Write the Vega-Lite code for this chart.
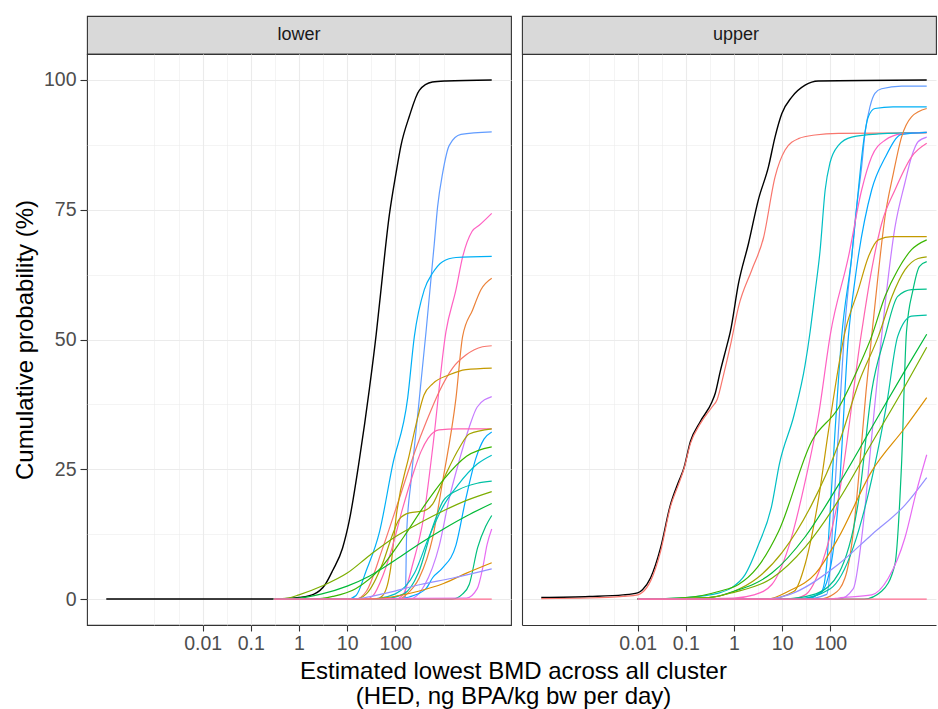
{
"$schema": "https://vega.github.io/schema/vega-lite/v6.json",
"background": "white",
"padding": {"left": 12, "top": 15, "right": 0, "bottom": 0},
"autosize": {"type": "pad"},
"config": {"font": "Liberation Sans", "view": {"stroke": "#333333", "strokeWidth": 1.1}},
"columns": 2,
"spacing": {"row": 0, "column": 11},
"bounds": "flush",
"data": {"values": [
{"p":"lower","s":"K","x":0.0001,"y":0},{"p":"lower","s":"K","x":0.3,"y":0},{"p":"lower","s":"K","x":0.6,"y":0.1},{"p":"lower","s":"K","x":1,"y":0.3},{"p":"lower","s":"K","x":2,"y":0.9},{"p":"lower","s":"K","x":3.5,"y":2.8},{"p":"lower","s":"K","x":5,"y":5.5},{"p":"lower","s":"K","x":8,"y":9.8},{"p":"lower","s":"K","x":11,"y":15},{"p":"lower","s":"K","x":18,"y":27},{"p":"lower","s":"K","x":29,"y":40.6},{"p":"lower","s":"K","x":40,"y":51},{"p":"lower","s":"K","x":47,"y":57},{"p":"lower","s":"K","x":75,"y":74},{"p":"lower","s":"K","x":103,"y":82},{"p":"lower","s":"K","x":131,"y":87.4},{"p":"lower","s":"K","x":195,"y":93},{"p":"lower","s":"K","x":314,"y":98},{"p":"lower","s":"K","x":585,"y":99.6},{"p":"lower","s":"K","x":1122,"y":99.8},{"p":"lower","s":"K","x":10000,"y":100},
{"p":"lower","s":"g14","x":0.3,"y":0},{"p":"lower","s":"g14","x":150,"y":0},{"p":"lower","s":"g14","x":161,"y":0.5},{"p":"lower","s":"g14","x":172,"y":13},{"p":"lower","s":"g14","x":211,"y":22.6},{"p":"lower","s":"g14","x":290,"y":35.4},{"p":"lower","s":"g14","x":433,"y":51.5},{"p":"lower","s":"g14","x":643,"y":68.5},{"p":"lower","s":"g14","x":753,"y":75.6},{"p":"lower","s":"g14","x":955,"y":82},{"p":"lower","s":"g14","x":1315,"y":87.4},{"p":"lower","s":"g14","x":2300,"y":89.5},{"p":"lower","s":"g14","x":10000,"y":90},
{"p":"lower","s":"g18","x":0.3,"y":0},{"p":"lower","s":"g18","x":100,"y":0},{"p":"lower","s":"g18","x":142,"y":0.7},{"p":"lower","s":"g18","x":229,"y":6.7},{"p":"lower","s":"g18","x":390,"y":16},{"p":"lower","s":"g18","x":593,"y":29},{"p":"lower","s":"g18","x":1122,"y":51.5},{"p":"lower","s":"g18","x":1811,"y":59.6},{"p":"lower","s":"g18","x":2490,"y":65.9},{"p":"lower","s":"g18","x":3890,"y":70.8},{"p":"lower","s":"g18","x":5500,"y":72},{"p":"lower","s":"g18","x":10000,"y":74.3},
{"p":"lower","s":"g12","x":0.3,"y":0},{"p":"lower","s":"g12","x":10,"y":0},{"p":"lower","s":"g12","x":15.3,"y":0.7},{"p":"lower","s":"g12","x":24.7,"y":5.4},{"p":"lower","s":"g12","x":47,"y":13},{"p":"lower","s":"g12","x":88,"y":25.9},{"p":"lower","s":"g12","x":180,"y":38.7},{"p":"lower","s":"g12","x":248,"y":50.6},{"p":"lower","s":"g12","x":399,"y":59.6},{"p":"lower","s":"g12","x":593,"y":62.8},{"p":"lower","s":"g12","x":955,"y":65},{"p":"lower","s":"g12","x":1811,"y":65.8},{"p":"lower","s":"g12","x":10000,"y":66},
{"p":"lower","s":"g02","x":0.3,"y":0},{"p":"lower","s":"g02","x":120,"y":0},{"p":"lower","s":"g02","x":166,"y":0.8},{"p":"lower","s":"g02","x":314,"y":4.1},{"p":"lower","s":"g02","x":593,"y":11.8},{"p":"lower","s":"g02","x":955,"y":22.6},{"p":"lower","s":"g02","x":1811,"y":38.7},{"p":"lower","s":"g02","x":2490,"y":50.6},{"p":"lower","s":"g02","x":4010,"y":55.7},{"p":"lower","s":"g02","x":5970,"y":59.6},{"p":"lower","s":"g02","x":10000,"y":61.8},
{"p":"lower","s":"g01","x":0.3,"y":0},{"p":"lower","s":"g01","x":15,"y":0},{"p":"lower","s":"g01","x":25,"y":1.5},{"p":"lower","s":"g01","x":55,"y":9.9},{"p":"lower","s":"g01","x":121,"y":19.4},{"p":"lower","s":"g01","x":268,"y":29},{"p":"lower","s":"g01","x":432,"y":34},{"p":"lower","s":"g01","x":815,"y":40},{"p":"lower","s":"g01","x":1540,"y":44.5},{"p":"lower","s":"g01","x":2911,"y":47},{"p":"lower","s":"g01","x":6450,"y":48.6},{"p":"lower","s":"g01","x":10000,"y":48.8},
{"p":"lower","s":"g04","x":0.3,"y":0},{"p":"lower","s":"g04","x":40,"y":0},{"p":"lower","s":"g04","x":55,"y":0.7},{"p":"lower","s":"g04","x":80,"y":6},{"p":"lower","s":"g04","x":103,"y":15.6},{"p":"lower","s":"g04","x":195,"y":27.8},{"p":"lower","s":"g04","x":288,"y":34.8},{"p":"lower","s":"g04","x":393,"y":39.3},{"p":"lower","s":"g04","x":600,"y":41.5},{"p":"lower","s":"g04","x":1315,"y":43.2},{"p":"lower","s":"g04","x":2911,"y":44.2},{"p":"lower","s":"g04","x":10000,"y":44.5},
{"p":"lower","s":"g16","x":0.3,"y":0},{"p":"lower","s":"g16","x":200,"y":0},{"p":"lower","s":"g16","x":400,"y":2.6},{"p":"lower","s":"g16","x":815,"y":10.3},{"p":"lower","s":"g16","x":1315,"y":19.4},{"p":"lower","s":"g16","x":2120,"y":26.7},{"p":"lower","s":"g16","x":3410,"y":33.1},{"p":"lower","s":"g16","x":5000,"y":37},{"p":"lower","s":"g16","x":10000,"y":39},
{"p":"lower","s":"g19","x":0.3,"y":0},{"p":"lower","s":"g19","x":25,"y":0},{"p":"lower","s":"g19","x":34,"y":0.6},{"p":"lower","s":"g19","x":55,"y":4.5},{"p":"lower","s":"g19","x":88,"y":10.3},{"p":"lower","s":"g19","x":142,"y":17.5},{"p":"lower","s":"g19","x":229,"y":23.9},{"p":"lower","s":"g19","x":340,"y":28.4},{"p":"lower","s":"g19","x":480,"y":31},{"p":"lower","s":"g19","x":800,"y":32.6},{"p":"lower","s":"g19","x":2000,"y":32.8},{"p":"lower","s":"g19","x":10000,"y":32.8},
{"p":"lower","s":"g05","x":0.3,"y":0},{"p":"lower","s":"g05","x":15,"y":0},{"p":"lower","s":"g05","x":25,"y":1},{"p":"lower","s":"g05","x":55,"y":7},{"p":"lower","s":"g05","x":88,"y":12.5},{"p":"lower","s":"g05","x":121,"y":15.4},{"p":"lower","s":"g05","x":195,"y":16.6},{"p":"lower","s":"g05","x":393,"y":17},{"p":"lower","s":"g05","x":593,"y":18.3},{"p":"lower","s":"g05","x":1122,"y":24.1},{"p":"lower","s":"g05","x":2150,"y":29.2},{"p":"lower","s":"g05","x":3410,"y":31.8},{"p":"lower","s":"g05","x":10000,"y":32.8},
{"p":"lower","s":"g13","x":0.3,"y":0},{"p":"lower","s":"g13","x":100,"y":0},{"p":"lower","s":"g13","x":195,"y":0.4},{"p":"lower","s":"g13","x":432,"y":2},{"p":"lower","s":"g13","x":593,"y":4.1},{"p":"lower","s":"g13","x":955,"y":6},{"p":"lower","s":"g13","x":1811,"y":10.4},{"p":"lower","s":"g13","x":2911,"y":19.4},{"p":"lower","s":"g13","x":4650,"y":27},{"p":"lower","s":"g13","x":6900,"y":30.8},{"p":"lower","s":"g13","x":10000,"y":32.2},
{"p":"lower","s":"g07","x":0.3,"y":0},{"p":"lower","s":"g07","x":2,"y":0},{"p":"lower","s":"g07","x":5,"y":0.5},{"p":"lower","s":"g07","x":15,"y":2},{"p":"lower","s":"g07","x":50,"y":6},{"p":"lower","s":"g07","x":150,"y":12},{"p":"lower","s":"g07","x":400,"y":18},{"p":"lower","s":"g07","x":1000,"y":23},{"p":"lower","s":"g07","x":3000,"y":27.5},{"p":"lower","s":"g07","x":10000,"y":29.3},
{"p":"lower","s":"g11","x":0.3,"y":0},{"p":"lower","s":"g11","x":30,"y":0},{"p":"lower","s":"g11","x":100,"y":1},{"p":"lower","s":"g11","x":250,"y":5},{"p":"lower","s":"g11","x":500,"y":12},{"p":"lower","s":"g11","x":1000,"y":18},{"p":"lower","s":"g11","x":2000,"y":22},{"p":"lower","s":"g11","x":5000,"y":26},{"p":"lower","s":"g11","x":10000,"y":27.7},
{"p":"lower","s":"g10","x":0.3,"y":0},{"p":"lower","s":"g10","x":50,"y":0},{"p":"lower","s":"g10","x":150,"y":1},{"p":"lower","s":"g10","x":300,"y":5},{"p":"lower","s":"g10","x":600,"y":14},{"p":"lower","s":"g10","x":1000,"y":19},{"p":"lower","s":"g10","x":2000,"y":21},{"p":"lower","s":"g10","x":5000,"y":22.3},{"p":"lower","s":"g10","x":10000,"y":22.7},
{"p":"lower","s":"g06","x":0.3,"y":0},{"p":"lower","s":"g06","x":0.6,"y":0.2},{"p":"lower","s":"g06","x":1,"y":0.8},{"p":"lower","s":"g06","x":3,"y":2.5},{"p":"lower","s":"g06","x":10,"y":5},{"p":"lower","s":"g06","x":30,"y":8.5},{"p":"lower","s":"g06","x":100,"y":12},{"p":"lower","s":"g06","x":300,"y":14.5},{"p":"lower","s":"g06","x":1000,"y":17},{"p":"lower","s":"g06","x":3000,"y":19},{"p":"lower","s":"g06","x":10000,"y":20.7},
{"p":"lower","s":"g08","x":0.3,"y":0},{"p":"lower","s":"g08","x":1,"y":0.2},{"p":"lower","s":"g08","x":3,"y":1},{"p":"lower","s":"g08","x":10,"y":2.5},{"p":"lower","s":"g08","x":30,"y":4.5},{"p":"lower","s":"g08","x":100,"y":7.5},{"p":"lower","s":"g08","x":300,"y":10.5},{"p":"lower","s":"g08","x":1000,"y":13.5},{"p":"lower","s":"g08","x":3000,"y":16},{"p":"lower","s":"g08","x":10000,"y":18.4},
{"p":"lower","s":"g09","x":0.3,"y":0},{"p":"lower","s":"g09","x":1500,"y":0},{"p":"lower","s":"g09","x":2500,"y":1},{"p":"lower","s":"g09","x":3410,"y":2.8},{"p":"lower","s":"g09","x":5100,"y":9.9},{"p":"lower","s":"g09","x":7500,"y":14},{"p":"lower","s":"g09","x":10000,"y":16.1},
{"p":"lower","s":"g17","x":0.3,"y":0},{"p":"lower","s":"g17","x":3000,"y":0.2},{"p":"lower","s":"g17","x":5000,"y":2},{"p":"lower","s":"g17","x":6500,"y":6},{"p":"lower","s":"g17","x":8000,"y":10.5},{"p":"lower","s":"g17","x":10000,"y":13.5},
{"p":"lower","s":"g03","x":0.3,"y":0},{"p":"lower","s":"g03","x":20,"y":0},{"p":"lower","s":"g03","x":68,"y":0.3},{"p":"lower","s":"g03","x":300,"y":1.5},{"p":"lower","s":"g03","x":1000,"y":3},{"p":"lower","s":"g03","x":3000,"y":5},{"p":"lower","s":"g03","x":10000,"y":7},
{"p":"lower","s":"g15","x":0.3,"y":0},{"p":"lower","s":"g15","x":10,"y":0},{"p":"lower","s":"g15","x":22.6,"y":0.25},{"p":"lower","s":"g15","x":68,"y":1.2},{"p":"lower","s":"g15","x":330,"y":2.8},{"p":"lower","s":"g15","x":1500,"y":4},{"p":"lower","s":"g15","x":10000,"y":5.8},
{"p":"lower","s":"g20","x":0.3,"y":0},{"p":"lower","s":"g20","x":10000,"y":0},
{"p":"upper","s":"K","x":0.0001,"y":0.3},{"p":"upper","s":"K","x":0.001,"y":0.5},{"p":"upper","s":"K","x":0.005,"y":0.8},{"p":"upper","s":"K","x":0.01,"y":1.2},{"p":"upper","s":"K","x":0.0126,"y":1.8},{"p":"upper","s":"K","x":0.0186,"y":4.1},{"p":"upper","s":"K","x":0.03,"y":9.9},{"p":"upper","s":"K","x":0.048,"y":18.2},{"p":"upper","s":"K","x":0.07,"y":22.5},{"p":"upper","s":"K","x":0.091,"y":25.2},{"p":"upper","s":"K","x":0.125,"y":30.4},{"p":"upper","s":"K","x":0.2,"y":34.2},{"p":"upper","s":"K","x":0.35,"y":38},{"p":"upper","s":"K","x":0.41,"y":39.7},{"p":"upper","s":"K","x":0.52,"y":43.9},{"p":"upper","s":"K","x":0.72,"y":49},{"p":"upper","s":"K","x":0.84,"y":51.5},{"p":"upper","s":"K","x":1.24,"y":60.8},{"p":"upper","s":"K","x":2,"y":68.5},{"p":"upper","s":"K","x":3.2,"y":76.9},{"p":"upper","s":"K","x":5.2,"y":83.3},{"p":"upper","s":"K","x":7.1,"y":89},{"p":"upper","s":"K","x":9.8,"y":93.5},{"p":"upper","s":"K","x":15.8,"y":96.7},{"p":"upper","s":"K","x":29.9,"y":99},{"p":"upper","s":"K","x":56,"y":99.8},{"p":"upper","s":"K","x":10000,"y":100},
{"p":"upper","s":"g01","x":0.0001,"y":0.1},{"p":"upper","s":"g01","x":0.001,"y":0.2},{"p":"upper","s":"g01","x":0.005,"y":0.5},{"p":"upper","s":"g01","x":0.01,"y":0.8},{"p":"upper","s":"g01","x":0.0126,"y":1.3},{"p":"upper","s":"g01","x":0.0186,"y":3.5},{"p":"upper","s":"g01","x":0.03,"y":9.2},{"p":"upper","s":"g01","x":0.048,"y":17.8},{"p":"upper","s":"g01","x":0.07,"y":22},{"p":"upper","s":"g01","x":0.091,"y":25},{"p":"upper","s":"g01","x":0.125,"y":30},{"p":"upper","s":"g01","x":0.2,"y":33.8},{"p":"upper","s":"g01","x":0.35,"y":37},{"p":"upper","s":"g01","x":0.45,"y":38.5},{"p":"upper","s":"g01","x":0.6,"y":43},{"p":"upper","s":"g01","x":0.85,"y":49},{"p":"upper","s":"g01","x":1.24,"y":56.3},{"p":"upper","s":"g01","x":2.34,"y":63.4},{"p":"upper","s":"g01","x":4.1,"y":69.6},{"p":"upper","s":"g01","x":7.1,"y":81.3},{"p":"upper","s":"g01","x":11.5,"y":86.5},{"p":"upper","s":"g01","x":21.7,"y":88.7},{"p":"upper","s":"g01","x":48,"y":89.4},{"p":"upper","s":"g01","x":147,"y":89.7},{"p":"upper","s":"g01","x":10000,"y":89.8},
{"p":"upper","s":"g14","x":0.01,"y":0},{"p":"upper","s":"g14","x":30,"y":0},{"p":"upper","s":"g14","x":84,"y":0.9},{"p":"upper","s":"g14","x":98,"y":5.4},{"p":"upper","s":"g14","x":115,"y":16.2},{"p":"upper","s":"g14","x":147,"y":32.3},{"p":"upper","s":"g14","x":202,"y":53.1},{"p":"upper","s":"g14","x":277,"y":65.9},{"p":"upper","s":"g14","x":352,"y":75.6},{"p":"upper","s":"g14","x":446,"y":83.3},{"p":"upper","s":"g14","x":523,"y":89.7},{"p":"upper","s":"g14","x":663,"y":94.8},{"p":"upper","s":"g14","x":841,"y":97.4},{"p":"upper","s":"g14","x":1157,"y":98.3},{"p":"upper","s":"g14","x":3000,"y":98.8},{"p":"upper","s":"g14","x":10000,"y":98.8},
{"p":"upper","s":"g12","x":0.01,"y":0},{"p":"upper","s":"g12","x":30,"y":0},{"p":"upper","s":"g12","x":66,"y":1.5},{"p":"upper","s":"g12","x":84,"y":6.7},{"p":"upper","s":"g12","x":98,"y":16.2},{"p":"upper","s":"g12","x":125,"y":32.3},{"p":"upper","s":"g12","x":172,"y":50.6},{"p":"upper","s":"g12","x":277,"y":65.9},{"p":"upper","s":"g12","x":381,"y":78.8},{"p":"upper","s":"g12","x":484,"y":87.8},{"p":"upper","s":"g12","x":614,"y":92.9},{"p":"upper","s":"g12","x":841,"y":94.5},{"p":"upper","s":"g12","x":2000,"y":94.8},{"p":"upper","s":"g12","x":10000,"y":94.8},
{"p":"upper","s":"g11","x":0.01,"y":0},{"p":"upper","s":"g11","x":0.1,"y":0.3},{"p":"upper","s":"g11","x":0.5,"y":1.2},{"p":"upper","s":"g11","x":0.9,"y":2.2},{"p":"upper","s":"g11","x":1.7,"y":4.7},{"p":"upper","s":"g11","x":3.2,"y":10.4},{"p":"upper","s":"g11","x":6.1,"y":18.1},{"p":"upper","s":"g11","x":8.7,"y":25.9},{"p":"upper","s":"g11","x":17.7,"y":35.5},{"p":"upper","s":"g11","x":29.9,"y":45.1},{"p":"upper","s":"g11","x":38,"y":51.5},{"p":"upper","s":"g11","x":48,"y":59},{"p":"upper","s":"g11","x":61,"y":67},{"p":"upper","s":"g11","x":78,"y":78.8},{"p":"upper","s":"g11","x":98,"y":84},{"p":"upper","s":"g11","x":147,"y":87.4},{"p":"upper","s":"g11","x":277,"y":89},{"p":"upper","s":"g11","x":1000,"y":89.6},{"p":"upper","s":"g11","x":10000,"y":89.9},
{"p":"upper","s":"g18","x":0.01,"y":0},{"p":"upper","s":"g18","x":1,"y":0.2},{"p":"upper","s":"g18","x":2.6,"y":0.8},{"p":"upper","s":"g18","x":6.1,"y":2.8},{"p":"upper","s":"g18","x":13.5,"y":9.9},{"p":"upper","s":"g18","x":29.9,"y":22.6},{"p":"upper","s":"g18","x":57,"y":35.5},{"p":"upper","s":"g18","x":100,"y":51},{"p":"upper","s":"g18","x":237,"y":65.9},{"p":"upper","s":"g18","x":446,"y":78.8},{"p":"upper","s":"g18","x":719,"y":85.2},{"p":"upper","s":"g18","x":1360,"y":88.4},{"p":"upper","s":"g18","x":3000,"y":89.6},{"p":"upper","s":"g18","x":10000,"y":89.9},
{"p":"upper","s":"g13","x":0.01,"y":0},{"p":"upper","s":"g13","x":20,"y":0},{"p":"upper","s":"g13","x":60,"y":1},{"p":"upper","s":"g13","x":100,"y":6},{"p":"upper","s":"g13","x":150,"y":20},{"p":"upper","s":"g13","x":237,"y":50.6},{"p":"upper","s":"g13","x":330,"y":62},{"p":"upper","s":"g13","x":719,"y":78.8},{"p":"upper","s":"g13","x":1360,"y":85},{"p":"upper","s":"g13","x":3000,"y":89.5},{"p":"upper","s":"g13","x":10000,"y":89.9},
{"p":"upper","s":"g02","x":0.01,"y":0},{"p":"upper","s":"g02","x":60,"y":0},{"p":"upper","s":"g02","x":120,"y":1},{"p":"upper","s":"g02","x":200,"y":4},{"p":"upper","s":"g02","x":300,"y":13},{"p":"upper","s":"g02","x":400,"y":25},{"p":"upper","s":"g02","x":550,"y":40},{"p":"upper","s":"g02","x":719,"y":50.6},{"p":"upper","s":"g02","x":990,"y":62.8},{"p":"upper","s":"g02","x":1360,"y":73.6},{"p":"upper","s":"g02","x":2020,"y":81.9},{"p":"upper","s":"g02","x":3000,"y":89},{"p":"upper","s":"g02","x":4840,"y":92.9},{"p":"upper","s":"g02","x":10000,"y":94.5},
{"p":"upper","s":"g16","x":0.01,"y":0},{"p":"upper","s":"g16","x":150,"y":0},{"p":"upper","s":"g16","x":300,"y":2},{"p":"upper","s":"g16","x":450,"y":12},{"p":"upper","s":"g16","x":700,"y":30},{"p":"upper","s":"g16","x":1157,"y":50.6},{"p":"upper","s":"g16","x":2190,"y":71.6},{"p":"upper","s":"g16","x":3530,"y":80.2},{"p":"upper","s":"g16","x":4840,"y":85.2},{"p":"upper","s":"g16","x":6600,"y":88.1},{"p":"upper","s":"g16","x":10000,"y":89},
{"p":"upper","s":"g19","x":0.01,"y":0},{"p":"upper","s":"g19","x":15,"y":0},{"p":"upper","s":"g19","x":30,"y":0.8},{"p":"upper","s":"g19","x":66,"y":6.7},{"p":"upper","s":"g19","x":147,"y":19.4},{"p":"upper","s":"g19","x":446,"y":51.5},{"p":"upper","s":"g19","x":719,"y":63.4},{"p":"upper","s":"g19","x":1157,"y":72.3},{"p":"upper","s":"g19","x":2190,"y":78.8},{"p":"upper","s":"g19","x":4840,"y":85.2},{"p":"upper","s":"g19","x":10000,"y":87.8},
{"p":"upper","s":"g04","x":0.01,"y":0},{"p":"upper","s":"g04","x":5,"y":0},{"p":"upper","s":"g04","x":17.7,"y":1.5},{"p":"upper","s":"g04","x":29.9,"y":6.7},{"p":"upper","s":"g04","x":57,"y":19.4},{"p":"upper","s":"g04","x":91,"y":32.3},{"p":"upper","s":"g04","x":202,"y":51.5},{"p":"upper","s":"g04","x":381,"y":59.6},{"p":"upper","s":"g04","x":614,"y":65.9},{"p":"upper","s":"g04","x":990,"y":69.2},{"p":"upper","s":"g04","x":1900,"y":69.8},{"p":"upper","s":"g04","x":10000,"y":69.8},
{"p":"upper","s":"g07","x":0.01,"y":0},{"p":"upper","s":"g07","x":0.1,"y":0.3},{"p":"upper","s":"g07","x":0.5,"y":1.5},{"p":"upper","s":"g07","x":1.24,"y":2.8},{"p":"upper","s":"g07","x":3,"y":6},{"p":"upper","s":"g07","x":8.4,"y":13},{"p":"upper","s":"g07","x":41,"y":30.4},{"p":"upper","s":"g07","x":147,"y":36.8},{"p":"upper","s":"g07","x":400,"y":45},{"p":"upper","s":"g07","x":719,"y":50.6},{"p":"upper","s":"g07","x":1360,"y":58.3},{"p":"upper","s":"g07","x":2500,"y":63.4},{"p":"upper","s":"g07","x":4840,"y":67.3},{"p":"upper","s":"g07","x":10000,"y":69.2},
{"p":"upper","s":"g05","x":0.01,"y":0},{"p":"upper","s":"g05","x":0.3,"y":0.3},{"p":"upper","s":"g05","x":1,"y":1.5},{"p":"upper","s":"g05","x":3,"y":4},{"p":"upper","s":"g05","x":10,"y":9},{"p":"upper","s":"g05","x":40,"y":18},{"p":"upper","s":"g05","x":150,"y":30},{"p":"upper","s":"g05","x":400,"y":42},{"p":"upper","s":"g05","x":990,"y":50.6},{"p":"upper","s":"g05","x":1900,"y":58.3},{"p":"upper","s":"g05","x":3530,"y":63.4},{"p":"upper","s":"g05","x":6600,"y":65.6},{"p":"upper","s":"g05","x":10000,"y":65.9},
{"p":"upper","s":"g09","x":0.01,"y":0},{"p":"upper","s":"g09","x":500,"y":0},{"p":"upper","s":"g09","x":1157,"y":1.5},{"p":"upper","s":"g09","x":2190,"y":6.7},{"p":"upper","s":"g09","x":3000,"y":25.9},{"p":"upper","s":"g09","x":3800,"y":51.5},{"p":"upper","s":"g09","x":5200,"y":59.6},{"p":"upper","s":"g09","x":7100,"y":64.1},{"p":"upper","s":"g09","x":10000,"y":65},
{"p":"upper","s":"g21","x":0.01,"y":0},{"p":"upper","s":"g21","x":10,"y":0},{"p":"upper","s":"g21","x":50,"y":1},{"p":"upper","s":"g21","x":150,"y":5},{"p":"upper","s":"g21","x":400,"y":20},{"p":"upper","s":"g21","x":719,"y":40},{"p":"upper","s":"g21","x":1360,"y":50.6},{"p":"upper","s":"g21","x":2500,"y":58.3},{"p":"upper","s":"g21","x":4840,"y":59.6},{"p":"upper","s":"g21","x":10000,"y":59.7},
{"p":"upper","s":"g10","x":0.01,"y":0},{"p":"upper","s":"g10","x":20,"y":0},{"p":"upper","s":"g10","x":100,"y":2},{"p":"upper","s":"g10","x":300,"y":10},{"p":"upper","s":"g10","x":800,"y":25},{"p":"upper","s":"g10","x":1500,"y":38},{"p":"upper","s":"g10","x":2500,"y":50.6},{"p":"upper","s":"g10","x":4840,"y":54.5},{"p":"upper","s":"g10","x":10000,"y":54.7},
{"p":"upper","s":"g08","x":0.01,"y":0},{"p":"upper","s":"g08","x":0.3,"y":0.3},{"p":"upper","s":"g08","x":1,"y":1.5},{"p":"upper","s":"g08","x":6.1,"y":5},{"p":"upper","s":"g08","x":30,"y":12},{"p":"upper","s":"g08","x":147,"y":22},{"p":"upper","s":"g08","x":719,"y":33},{"p":"upper","s":"g08","x":3530,"y":44},{"p":"upper","s":"g08","x":10000,"y":51},
{"p":"upper","s":"g06","x":0.01,"y":0},{"p":"upper","s":"g06","x":0.3,"y":0.3},{"p":"upper","s":"g06","x":1,"y":1.3},{"p":"upper","s":"g06","x":6.1,"y":4},{"p":"upper","s":"g06","x":30,"y":10},{"p":"upper","s":"g06","x":147,"y":19},{"p":"upper","s":"g06","x":719,"y":30},{"p":"upper","s":"g06","x":3530,"y":41},{"p":"upper","s":"g06","x":10000,"y":48.5},
{"p":"upper","s":"g03","x":0.01,"y":0},{"p":"upper","s":"g03","x":5,"y":0},{"p":"upper","s":"g03","x":13.5,"y":1.5},{"p":"upper","s":"g03","x":50,"y":5},{"p":"upper","s":"g03","x":147,"y":11.8},{"p":"upper","s":"g03","x":719,"y":24.6},{"p":"upper","s":"g03","x":3530,"y":33},{"p":"upper","s":"g03","x":10000,"y":38.8},
{"p":"upper","s":"g15","x":0.01,"y":0},{"p":"upper","s":"g15","x":5,"y":0},{"p":"upper","s":"g15","x":13.5,"y":0.8},{"p":"upper","s":"g15","x":147,"y":6.7},{"p":"upper","s":"g15","x":719,"y":12.4},{"p":"upper","s":"g15","x":3530,"y":18.1},{"p":"upper","s":"g15","x":10000,"y":23.4},
{"p":"upper","s":"g17","x":0.01,"y":0},{"p":"upper","s":"g17","x":100,"y":0},{"p":"upper","s":"g17","x":147,"y":0.2},{"p":"upper","s":"g17","x":719,"y":0.8},{"p":"upper","s":"g17","x":1590,"y":4},{"p":"upper","s":"g17","x":3530,"y":11.8},{"p":"upper","s":"g17","x":6100,"y":20.7},{"p":"upper","s":"g17","x":10000,"y":27.8},
{"p":"upper","s":"g20","x":0.01,"y":0},{"p":"upper","s":"g20","x":10000,"y":0}
]},
"concat": [
 {"width": 424, "height": 38, "data": {"values": [{"t": "lower"}]}, "view": {"fill": "#d9d9d9", "stroke": "#333333", "strokeWidth": 1.1},
  "mark": {"type": "text", "fontSize": 18, "color": "#1a1a1a", "font": "Liberation Sans"}, "encoding": {"text": {"field": "t"}}},
 {"width": 414, "height": 38, "data": {"values": [{"t": "upper"}]}, "view": {"fill": "#d9d9d9", "stroke": "#333333", "strokeWidth": 1.1},
  "mark": {"type": "text", "fontSize": 18, "color": "#1a1a1a", "font": "Liberation Sans", "dx": 7}, "encoding": {"text": {"field": "t"}}},
 {"width": 424, "height": 571, "transform": [{"filter": "datum.p == 'lower'"}],
  "encoding": {
   "x": {"field": "x", "type": "quantitative", "scale": {"type": "log", "domain": [0.00003981, 25119], "nice": false},
     "axis": {"values": [0.001,0.003162,0.01,0.03162,0.1,0.3162,1,3.162,10,31.62,100,316.2,1000],
       "labelExpr": "indexof([0.01,0.1,1,10,100], datum.value) >= 0 ? format(datum.value, '~g') : ''",
       "tickOpacity": {"condition": {"test": "indexof([0.01,0.1,1,10,100], datum.value) >= 0", "value": 1}, "value": 0},
       "gridWidth": {"condition": {"test": "indexof([0.01,0.1,1,10,100], datum.value) >= 0", "value": 1.1}, "value": 0.55},
       "gridColor": "#ebebeb", "tickColor": "#333333", "tickSize": 6, "tickWidth": 1.1, "domain": false,
       "labelColor": "#4d4d4d", "labelFontSize": 19.5, "labelPadding": 3, "labelFlush": false, "labelOverlap": false,
       "title": ["Estimated lowest BMD across all cluster", "(HED, ng BPA/kg bw per day)"],
       "titleFontSize": 24, "titleFontWeight": "normal", "titleColor": "#000000", "titleLineHeight": 25, "titleX": 426, "titlePadding": 7}},
   "y": {"field": "y", "type": "quantitative", "scale": {"domain": [-5, 105], "nice": false, "zero": false},
     "axis": {"values": [0,12.5,25,37.5,50,62.5,75,87.5,100],
       "labelExpr": "datum.value % 25 == 0 ? datum.label : ''",
       "tickOpacity": {"condition": {"test": "datum.value % 25 == 0", "value": 1}, "value": 0},
       "gridWidth": {"condition": {"test": "datum.value % 25 == 0", "value": 1.1}, "value": 0.55},
       "gridColor": "#ebebeb", "tickColor": "#333333", "tickSize": 7, "tickWidth": 1.1, "domain": false,
       "labelColor": "#4d4d4d", "labelFontSize": 19.5, "labelPadding": 4,
       "title": "Cumulative probability (%)", "titleFontSize": 24, "titleFontWeight": "normal", "titleColor": "#000000", "titlePadding": 6}}
  },
  "layer": [
   {"transform": [{"filter": "datum.s == 'K'"}], "mark": {"type": "line", "color": "#000000", "strokeWidth": 1.4, "interpolate": "monotone"}},
   {"transform": [{"filter": "datum.s != 'K'"}], "mark": {"type": "line", "strokeWidth": 1.2, "interpolate": "monotone"},
    "encoding": {"color": {"field": "s", "type": "nominal", "legend": null,
      "scale": {"domain": ["g01","g02","g03","g04","g05","g06","g07","g08","g09","g10","g11","g12","g13","g14","g15","g16","g17","g18","g19","g20","g21"],
                "range": ["#F8766D","#EC8239","#DB8E00","#C49A00","#A3A500","#7CAE00","#39B600","#00BA38","#00BF7D","#00C1A3","#00BFC4","#00B0F6","#00A9FF","#619CFF","#9590FF","#C77CFF","#E76BF3","#FF61C3","#FF64B0","#FF6C91","#00C08B"]}}}}
  ]},
 {"width": 414, "height": 571, "transform": [{"filter": "datum.p == 'upper'"}],
  "view": {"stroke": null},
  "encoding": {
   "x": {"field": "x", "type": "quantitative", "scale": {"type": "log", "domain": [0.00003981, 15578], "nice": false},
     "axis": {"values": [0.001,0.003162,0.01,0.03162,0.1,0.3162,1,3.162,10,31.62,100,316.2,1000],
       "labelExpr": "indexof([0.01,0.1,1,10,100], datum.value) >= 0 ? format(datum.value, '~g') : ''",
       "tickOpacity": {"condition": {"test": "indexof([0.01,0.1,1,10,100], datum.value) >= 0", "value": 1}, "value": 0},
       "gridWidth": {"condition": {"test": "indexof([0.01,0.1,1,10,100], datum.value) >= 0", "value": 1.1}, "value": 0.55},
       "gridColor": "#ebebeb", "tickColor": "#333333", "tickSize": 6, "tickWidth": 1.1,
       "domain": true, "domainColor": "#333333", "domainWidth": 1.1,
       "labelColor": "#4d4d4d", "labelFontSize": 19.5, "labelPadding": 3, "labelFlush": false, "labelOverlap": false,
       "title": null}},
   "y": {"field": "y", "type": "quantitative", "scale": {"domain": [-5, 105], "nice": false, "zero": false},
     "axis": {"values": [0,12.5,25,37.5,50,62.5,75,87.5,100], "labels": false, "ticks": false, "title": null,
       "domain": true, "domainColor": "#333333", "domainWidth": 1.1,
       "gridWidth": {"condition": {"test": "datum.value % 25 == 0", "value": 1.1}, "value": 0.55},
       "gridColor": "#ebebeb"}}
  },
  "layer": [
   {"transform": [{"filter": "datum.s == 'K'"}], "mark": {"type": "line", "color": "#000000", "strokeWidth": 1.4, "interpolate": "monotone"}},
   {"transform": [{"filter": "datum.s != 'K'"}], "mark": {"type": "line", "strokeWidth": 1.2, "interpolate": "monotone"},
    "encoding": {"color": {"field": "s", "type": "nominal", "legend": null,
      "scale": {"domain": ["g01","g02","g03","g04","g05","g06","g07","g08","g09","g10","g11","g12","g13","g14","g15","g16","g17","g18","g19","g20","g21"],
                "range": ["#F8766D","#EC8239","#DB8E00","#C49A00","#A3A500","#7CAE00","#39B600","#00BA38","#00BF7D","#00C1A3","#00BFC4","#00B0F6","#00A9FF","#619CFF","#9590FF","#C77CFF","#E76BF3","#FF61C3","#FF64B0","#FF6C91","#00C08B"]}}}}
  ]}
]
}
